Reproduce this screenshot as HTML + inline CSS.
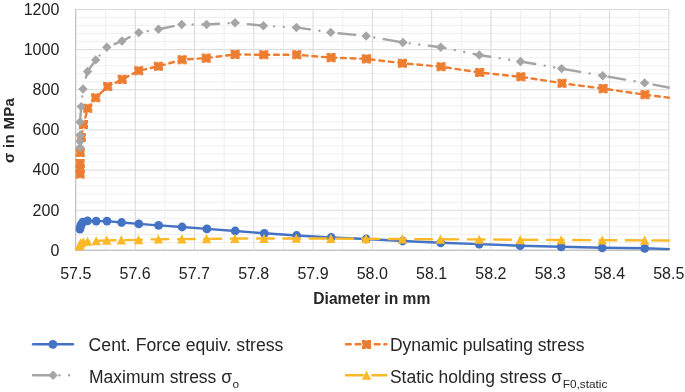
<!DOCTYPE html>
<html><head><meta charset="utf-8"><style>
html,body{margin:0;padding:0;background:#fff;}
body{width:685px;height:392px;overflow:hidden;position:relative;}
svg{position:absolute;left:0;top:0;will-change:transform;}
text{font-family:"Liberation Sans",sans-serif;}
</style></head><body>
<svg width="685" height="392" viewBox="0 0 685 392">
<defs><clipPath id="pc"><rect x="75" y="0" width="594.8" height="252"/></clipPath></defs>
<rect width="685" height="392" fill="#fff"/>
<line x1="75" y1="9.45" x2="669" y2="9.45" stroke="#D9D9D9" stroke-width="1"/>
<line x1="75" y1="17.48" x2="669" y2="17.48" stroke="#EFEFEF" stroke-width="1"/>
<line x1="75" y1="25.51" x2="669" y2="25.51" stroke="#EFEFEF" stroke-width="1"/>
<line x1="75" y1="33.55" x2="669" y2="33.55" stroke="#EFEFEF" stroke-width="1"/>
<line x1="75" y1="41.58" x2="669" y2="41.58" stroke="#EFEFEF" stroke-width="1"/>
<line x1="75" y1="49.61" x2="669" y2="49.61" stroke="#D9D9D9" stroke-width="1"/>
<line x1="75" y1="57.64" x2="669" y2="57.64" stroke="#EFEFEF" stroke-width="1"/>
<line x1="75" y1="65.67" x2="669" y2="65.67" stroke="#EFEFEF" stroke-width="1"/>
<line x1="75" y1="73.70" x2="669" y2="73.70" stroke="#EFEFEF" stroke-width="1"/>
<line x1="75" y1="81.74" x2="669" y2="81.74" stroke="#EFEFEF" stroke-width="1"/>
<line x1="75" y1="89.77" x2="669" y2="89.77" stroke="#D9D9D9" stroke-width="1"/>
<line x1="75" y1="97.80" x2="669" y2="97.80" stroke="#EFEFEF" stroke-width="1"/>
<line x1="75" y1="105.83" x2="669" y2="105.83" stroke="#EFEFEF" stroke-width="1"/>
<line x1="75" y1="113.86" x2="669" y2="113.86" stroke="#EFEFEF" stroke-width="1"/>
<line x1="75" y1="121.89" x2="669" y2="121.89" stroke="#EFEFEF" stroke-width="1"/>
<line x1="75" y1="129.93" x2="669" y2="129.93" stroke="#D9D9D9" stroke-width="1"/>
<line x1="75" y1="137.96" x2="669" y2="137.96" stroke="#EFEFEF" stroke-width="1"/>
<line x1="75" y1="145.99" x2="669" y2="145.99" stroke="#EFEFEF" stroke-width="1"/>
<line x1="75" y1="154.02" x2="669" y2="154.02" stroke="#EFEFEF" stroke-width="1"/>
<line x1="75" y1="162.05" x2="669" y2="162.05" stroke="#EFEFEF" stroke-width="1"/>
<line x1="75" y1="170.08" x2="669" y2="170.08" stroke="#D9D9D9" stroke-width="1"/>
<line x1="75" y1="178.12" x2="669" y2="178.12" stroke="#EFEFEF" stroke-width="1"/>
<line x1="75" y1="186.15" x2="669" y2="186.15" stroke="#EFEFEF" stroke-width="1"/>
<line x1="75" y1="194.18" x2="669" y2="194.18" stroke="#EFEFEF" stroke-width="1"/>
<line x1="75" y1="202.21" x2="669" y2="202.21" stroke="#EFEFEF" stroke-width="1"/>
<line x1="75" y1="210.24" x2="669" y2="210.24" stroke="#D9D9D9" stroke-width="1"/>
<line x1="75" y1="218.27" x2="669" y2="218.27" stroke="#EFEFEF" stroke-width="1"/>
<line x1="75" y1="226.31" x2="669" y2="226.31" stroke="#EFEFEF" stroke-width="1"/>
<line x1="75" y1="234.34" x2="669" y2="234.34" stroke="#EFEFEF" stroke-width="1"/>
<line x1="75" y1="242.37" x2="669" y2="242.37" stroke="#EFEFEF" stroke-width="1"/>
<line x1="75" y1="250.40" x2="669" y2="250.40" stroke="#D9D9D9" stroke-width="1"/>
<line x1="76.00" y1="9" x2="76.00" y2="250.5" stroke="#D9D9D9" stroke-width="1"/>
<line x1="105.64" y1="9" x2="105.64" y2="250.5" stroke="#EFEFEF" stroke-width="1"/>
<line x1="135.28" y1="9" x2="135.28" y2="250.5" stroke="#D9D9D9" stroke-width="1"/>
<line x1="164.92" y1="9" x2="164.92" y2="250.5" stroke="#EFEFEF" stroke-width="1"/>
<line x1="194.56" y1="9" x2="194.56" y2="250.5" stroke="#D9D9D9" stroke-width="1"/>
<line x1="224.20" y1="9" x2="224.20" y2="250.5" stroke="#EFEFEF" stroke-width="1"/>
<line x1="253.84" y1="9" x2="253.84" y2="250.5" stroke="#D9D9D9" stroke-width="1"/>
<line x1="283.48" y1="9" x2="283.48" y2="250.5" stroke="#EFEFEF" stroke-width="1"/>
<line x1="313.12" y1="9" x2="313.12" y2="250.5" stroke="#D9D9D9" stroke-width="1"/>
<line x1="342.76" y1="9" x2="342.76" y2="250.5" stroke="#EFEFEF" stroke-width="1"/>
<line x1="372.40" y1="9" x2="372.40" y2="250.5" stroke="#D9D9D9" stroke-width="1"/>
<line x1="402.04" y1="9" x2="402.04" y2="250.5" stroke="#EFEFEF" stroke-width="1"/>
<line x1="431.68" y1="9" x2="431.68" y2="250.5" stroke="#D9D9D9" stroke-width="1"/>
<line x1="461.32" y1="9" x2="461.32" y2="250.5" stroke="#EFEFEF" stroke-width="1"/>
<line x1="490.96" y1="9" x2="490.96" y2="250.5" stroke="#D9D9D9" stroke-width="1"/>
<line x1="520.60" y1="9" x2="520.60" y2="250.5" stroke="#EFEFEF" stroke-width="1"/>
<line x1="550.24" y1="9" x2="550.24" y2="250.5" stroke="#D9D9D9" stroke-width="1"/>
<line x1="579.88" y1="9" x2="579.88" y2="250.5" stroke="#EFEFEF" stroke-width="1"/>
<line x1="609.52" y1="9" x2="609.52" y2="250.5" stroke="#D9D9D9" stroke-width="1"/>
<line x1="639.16" y1="9" x2="639.16" y2="250.5" stroke="#EFEFEF" stroke-width="1"/>
<line x1="668.80" y1="9" x2="668.80" y2="250.5" stroke="#D9D9D9" stroke-width="1"/>
<line x1="75.5" y1="9" x2="75.5" y2="251" stroke="#C4C4C4" stroke-width="1"/>
<line x1="75" y1="249.5" x2="669" y2="249.5" stroke="#E4E4E4" stroke-width="1"/>
<line x1="75" y1="250.5" x2="669" y2="250.5" stroke="#C4C4C4" stroke-width="1"/>
<polyline points="80.00,229.10 80.50,226.60 81.10,224.60 82.70,222.10 87.50,220.90 96.20,221.10 107.00,221.10 121.60,222.50 138.80,223.90 158.60,225.40 182.10,227.00 206.90,228.90 235.20,231.00 264.30,233.30 296.60,235.50 331.20,237.50 366.20,239.00 402.70,241.00 440.70,242.80 479.20,244.10 520.20,245.70 561.20,246.80 602.20,247.80 644.70,248.30 670.00,249.10" fill="none" stroke="#4472C4" stroke-width="2.4" stroke-linejoin="round"  clip-path="url(#pc)"/>
<circle cx="80.00" cy="229.10" r="4.4" fill="#4472C4"/>
<circle cx="80.50" cy="226.60" r="4.4" fill="#4472C4"/>
<circle cx="81.10" cy="224.60" r="4.4" fill="#4472C4"/>
<circle cx="82.70" cy="222.10" r="4.4" fill="#4472C4"/>
<circle cx="87.50" cy="220.90" r="4.4" fill="#4472C4"/>
<circle cx="96.20" cy="221.10" r="4.4" fill="#4472C4"/>
<circle cx="107.00" cy="221.10" r="4.4" fill="#4472C4"/>
<circle cx="121.60" cy="222.50" r="4.4" fill="#4472C4"/>
<circle cx="138.80" cy="223.90" r="4.4" fill="#4472C4"/>
<circle cx="158.60" cy="225.40" r="4.4" fill="#4472C4"/>
<circle cx="182.10" cy="227.00" r="4.4" fill="#4472C4"/>
<circle cx="206.90" cy="228.90" r="4.4" fill="#4472C4"/>
<circle cx="235.20" cy="231.00" r="4.4" fill="#4472C4"/>
<circle cx="264.30" cy="233.30" r="4.4" fill="#4472C4"/>
<circle cx="296.60" cy="235.50" r="4.4" fill="#4472C4"/>
<circle cx="331.20" cy="237.50" r="4.4" fill="#4472C4"/>
<circle cx="366.20" cy="239.00" r="4.4" fill="#4472C4"/>
<circle cx="402.70" cy="241.00" r="4.4" fill="#4472C4"/>
<circle cx="440.70" cy="242.80" r="4.4" fill="#4472C4"/>
<circle cx="479.20" cy="244.10" r="4.4" fill="#4472C4"/>
<circle cx="520.20" cy="245.70" r="4.4" fill="#4472C4"/>
<circle cx="561.20" cy="246.80" r="4.4" fill="#4472C4"/>
<circle cx="602.20" cy="247.80" r="4.4" fill="#4472C4"/>
<circle cx="644.70" cy="248.30" r="4.4" fill="#4472C4"/>
<polyline points="80.10,174.00 80.10,169.00 80.10,163.50 80.20,152.50 81.30,137.50 83.50,124.50 87.80,108.20 95.70,97.80 107.70,86.50 122.20,79.40 138.70,70.70 158.40,66.30 182.10,59.70 206.20,58.10 235.10,54.40 263.80,54.80 296.80,54.80 331.10,57.60 366.40,58.90 402.40,63.20 441.10,66.70 479.70,72.50 520.90,76.80 562.00,83.20 603.10,88.60 645.00,94.70 670.00,97.80" fill="none" stroke="#ED7D31" stroke-width="2.4" stroke-linejoin="round" stroke-dasharray="4.79 4.80" stroke-dashoffset="-9.01" stroke-linecap="round" clip-path="url(#pc)"/>
<rect x="76.25" y="170.15" width="7.70" height="7.70" fill="#ED7D31"/><rect x="76.10" y="170.00" width="8.0" height="8.0" fill="none" stroke="#ED7D31" stroke-width="1.1" stroke-dasharray="6.3 1.7" stroke-dashoffset="3.2"/>
<rect x="76.25" y="165.15" width="7.70" height="7.70" fill="#ED7D31"/><rect x="76.10" y="165.00" width="8.0" height="8.0" fill="none" stroke="#ED7D31" stroke-width="1.1" stroke-dasharray="6.3 1.7" stroke-dashoffset="3.2"/>
<rect x="76.25" y="159.65" width="7.70" height="7.70" fill="#ED7D31"/><rect x="76.10" y="159.50" width="8.0" height="8.0" fill="none" stroke="#ED7D31" stroke-width="1.1" stroke-dasharray="6.3 1.7" stroke-dashoffset="3.2"/>
<rect x="76.35" y="148.65" width="7.70" height="7.70" fill="#ED7D31"/><rect x="76.20" y="148.50" width="8.0" height="8.0" fill="none" stroke="#ED7D31" stroke-width="1.1" stroke-dasharray="6.3 1.7" stroke-dashoffset="3.2"/>
<rect x="77.45" y="133.65" width="7.70" height="7.70" fill="#ED7D31"/><rect x="77.30" y="133.50" width="8.0" height="8.0" fill="none" stroke="#ED7D31" stroke-width="1.1" stroke-dasharray="6.3 1.7" stroke-dashoffset="3.2"/>
<rect x="79.65" y="120.65" width="7.70" height="7.70" fill="#ED7D31"/><rect x="79.50" y="120.50" width="8.0" height="8.0" fill="none" stroke="#ED7D31" stroke-width="1.1" stroke-dasharray="6.3 1.7" stroke-dashoffset="3.2"/>
<rect x="83.95" y="104.35" width="7.70" height="7.70" fill="#ED7D31"/><rect x="83.80" y="104.20" width="8.0" height="8.0" fill="none" stroke="#ED7D31" stroke-width="1.1" stroke-dasharray="6.3 1.7" stroke-dashoffset="3.2"/>
<rect x="91.85" y="93.95" width="7.70" height="7.70" fill="#ED7D31"/><rect x="91.70" y="93.80" width="8.0" height="8.0" fill="none" stroke="#ED7D31" stroke-width="1.1" stroke-dasharray="6.3 1.7" stroke-dashoffset="3.2"/>
<rect x="103.85" y="82.65" width="7.70" height="7.70" fill="#ED7D31"/><rect x="103.70" y="82.50" width="8.0" height="8.0" fill="none" stroke="#ED7D31" stroke-width="1.1" stroke-dasharray="6.3 1.7" stroke-dashoffset="3.2"/>
<rect x="118.35" y="75.55" width="7.70" height="7.70" fill="#ED7D31"/><rect x="118.20" y="75.40" width="8.0" height="8.0" fill="none" stroke="#ED7D31" stroke-width="1.1" stroke-dasharray="6.3 1.7" stroke-dashoffset="3.2"/>
<rect x="134.85" y="66.85" width="7.70" height="7.70" fill="#ED7D31"/><rect x="134.70" y="66.70" width="8.0" height="8.0" fill="none" stroke="#ED7D31" stroke-width="1.1" stroke-dasharray="6.3 1.7" stroke-dashoffset="3.2"/>
<rect x="154.55" y="62.45" width="7.70" height="7.70" fill="#ED7D31"/><rect x="154.40" y="62.30" width="8.0" height="8.0" fill="none" stroke="#ED7D31" stroke-width="1.1" stroke-dasharray="6.3 1.7" stroke-dashoffset="3.2"/>
<rect x="178.25" y="55.85" width="7.70" height="7.70" fill="#ED7D31"/><rect x="178.10" y="55.70" width="8.0" height="8.0" fill="none" stroke="#ED7D31" stroke-width="1.1" stroke-dasharray="6.3 1.7" stroke-dashoffset="3.2"/>
<rect x="202.35" y="54.25" width="7.70" height="7.70" fill="#ED7D31"/><rect x="202.20" y="54.10" width="8.0" height="8.0" fill="none" stroke="#ED7D31" stroke-width="1.1" stroke-dasharray="6.3 1.7" stroke-dashoffset="3.2"/>
<rect x="231.25" y="50.55" width="7.70" height="7.70" fill="#ED7D31"/><rect x="231.10" y="50.40" width="8.0" height="8.0" fill="none" stroke="#ED7D31" stroke-width="1.1" stroke-dasharray="6.3 1.7" stroke-dashoffset="3.2"/>
<rect x="259.95" y="50.95" width="7.70" height="7.70" fill="#ED7D31"/><rect x="259.80" y="50.80" width="8.0" height="8.0" fill="none" stroke="#ED7D31" stroke-width="1.1" stroke-dasharray="6.3 1.7" stroke-dashoffset="3.2"/>
<rect x="292.95" y="50.95" width="7.70" height="7.70" fill="#ED7D31"/><rect x="292.80" y="50.80" width="8.0" height="8.0" fill="none" stroke="#ED7D31" stroke-width="1.1" stroke-dasharray="6.3 1.7" stroke-dashoffset="3.2"/>
<rect x="327.25" y="53.75" width="7.70" height="7.70" fill="#ED7D31"/><rect x="327.10" y="53.60" width="8.0" height="8.0" fill="none" stroke="#ED7D31" stroke-width="1.1" stroke-dasharray="6.3 1.7" stroke-dashoffset="3.2"/>
<rect x="362.55" y="55.05" width="7.70" height="7.70" fill="#ED7D31"/><rect x="362.40" y="54.90" width="8.0" height="8.0" fill="none" stroke="#ED7D31" stroke-width="1.1" stroke-dasharray="6.3 1.7" stroke-dashoffset="3.2"/>
<rect x="398.55" y="59.35" width="7.70" height="7.70" fill="#ED7D31"/><rect x="398.40" y="59.20" width="8.0" height="8.0" fill="none" stroke="#ED7D31" stroke-width="1.1" stroke-dasharray="6.3 1.7" stroke-dashoffset="3.2"/>
<rect x="437.25" y="62.85" width="7.70" height="7.70" fill="#ED7D31"/><rect x="437.10" y="62.70" width="8.0" height="8.0" fill="none" stroke="#ED7D31" stroke-width="1.1" stroke-dasharray="6.3 1.7" stroke-dashoffset="3.2"/>
<rect x="475.85" y="68.65" width="7.70" height="7.70" fill="#ED7D31"/><rect x="475.70" y="68.50" width="8.0" height="8.0" fill="none" stroke="#ED7D31" stroke-width="1.1" stroke-dasharray="6.3 1.7" stroke-dashoffset="3.2"/>
<rect x="517.05" y="72.95" width="7.70" height="7.70" fill="#ED7D31"/><rect x="516.90" y="72.80" width="8.0" height="8.0" fill="none" stroke="#ED7D31" stroke-width="1.1" stroke-dasharray="6.3 1.7" stroke-dashoffset="3.2"/>
<rect x="558.15" y="79.35" width="7.70" height="7.70" fill="#ED7D31"/><rect x="558.00" y="79.20" width="8.0" height="8.0" fill="none" stroke="#ED7D31" stroke-width="1.1" stroke-dasharray="6.3 1.7" stroke-dashoffset="3.2"/>
<rect x="599.25" y="84.75" width="7.70" height="7.70" fill="#ED7D31"/><rect x="599.10" y="84.60" width="8.0" height="8.0" fill="none" stroke="#ED7D31" stroke-width="1.1" stroke-dasharray="6.3 1.7" stroke-dashoffset="3.2"/>
<rect x="641.15" y="90.85" width="7.70" height="7.70" fill="#ED7D31"/><rect x="641.00" y="90.70" width="8.0" height="8.0" fill="none" stroke="#ED7D31" stroke-width="1.1" stroke-dasharray="6.3 1.7" stroke-dashoffset="3.2"/>
<polyline points="80.00,147.50 80.00,141.50 80.20,135.30 80.00,122.00 81.20,106.60 83.00,89.00 87.50,71.50 95.70,59.90 106.80,47.30 122.00,41.00 138.80,32.60 158.50,29.20 181.70,24.50 206.60,24.50 235.00,22.80 263.40,25.80 296.40,27.50 330.70,32.40 366.10,36.00 402.90,42.50 440.70,47.20 479.30,55.00 520.50,61.50 561.60,68.60 602.70,75.80 644.60,82.90 670.00,87.80" fill="none" stroke="#A5A5A5" stroke-width="2.4" stroke-linejoin="round" stroke-dasharray="16.8 9.6 0.01 9.6 0.01 9.59" stroke-dashoffset="-24.76" stroke-linecap="round" clip-path="url(#pc)"/>
<path d="M80.00 142.80L84.70 147.50L80.00 152.20L75.30 147.50Z" fill="#A5A5A5"/>
<path d="M80.00 136.80L84.70 141.50L80.00 146.20L75.30 141.50Z" fill="#A5A5A5"/>
<path d="M80.20 130.60L84.90 135.30L80.20 140.00L75.50 135.30Z" fill="#A5A5A5"/>
<path d="M80.00 117.30L84.70 122.00L80.00 126.70L75.30 122.00Z" fill="#A5A5A5"/>
<path d="M81.20 101.90L85.90 106.60L81.20 111.30L76.50 106.60Z" fill="#A5A5A5"/>
<path d="M83.00 84.30L87.70 89.00L83.00 93.70L78.30 89.00Z" fill="#A5A5A5"/>
<path d="M87.50 66.80L92.20 71.50L87.50 76.20L82.80 71.50Z" fill="#A5A5A5"/>
<path d="M95.70 55.20L100.40 59.90L95.70 64.60L91.00 59.90Z" fill="#A5A5A5"/>
<path d="M106.80 42.60L111.50 47.30L106.80 52.00L102.10 47.30Z" fill="#A5A5A5"/>
<path d="M122.00 36.30L126.70 41.00L122.00 45.70L117.30 41.00Z" fill="#A5A5A5"/>
<path d="M138.80 27.90L143.50 32.60L138.80 37.30L134.10 32.60Z" fill="#A5A5A5"/>
<path d="M158.50 24.50L163.20 29.20L158.50 33.90L153.80 29.20Z" fill="#A5A5A5"/>
<path d="M181.70 19.80L186.40 24.50L181.70 29.20L177.00 24.50Z" fill="#A5A5A5"/>
<path d="M206.60 19.80L211.30 24.50L206.60 29.20L201.90 24.50Z" fill="#A5A5A5"/>
<path d="M235.00 18.10L239.70 22.80L235.00 27.50L230.30 22.80Z" fill="#A5A5A5"/>
<path d="M263.40 21.10L268.10 25.80L263.40 30.50L258.70 25.80Z" fill="#A5A5A5"/>
<path d="M296.40 22.80L301.10 27.50L296.40 32.20L291.70 27.50Z" fill="#A5A5A5"/>
<path d="M330.70 27.70L335.40 32.40L330.70 37.10L326.00 32.40Z" fill="#A5A5A5"/>
<path d="M366.10 31.30L370.80 36.00L366.10 40.70L361.40 36.00Z" fill="#A5A5A5"/>
<path d="M402.90 37.80L407.60 42.50L402.90 47.20L398.20 42.50Z" fill="#A5A5A5"/>
<path d="M440.70 42.50L445.40 47.20L440.70 51.90L436.00 47.20Z" fill="#A5A5A5"/>
<path d="M479.30 50.30L484.00 55.00L479.30 59.70L474.60 55.00Z" fill="#A5A5A5"/>
<path d="M520.50 56.80L525.20 61.50L520.50 66.20L515.80 61.50Z" fill="#A5A5A5"/>
<path d="M561.60 63.90L566.30 68.60L561.60 73.30L556.90 68.60Z" fill="#A5A5A5"/>
<path d="M602.70 71.10L607.40 75.80L602.70 80.50L598.00 75.80Z" fill="#A5A5A5"/>
<path d="M644.60 78.20L649.30 82.90L644.60 87.60L639.90 82.90Z" fill="#A5A5A5"/>
<polyline points="79.50,245.95 80.00,244.45 80.80,242.95 83.30,241.95 87.50,241.45 96.20,240.95 106.80,240.35 121.30,240.15 138.50,239.85 158.30,239.20 181.80,239.10 206.60,238.90 234.90,238.55 264.00,238.55 296.30,238.45 330.90,238.55 365.90,238.75 402.40,239.05 440.40,239.25 479.20,239.45 520.20,239.75 561.20,239.95 602.20,240.15 644.70,240.35 670.00,240.55" fill="none" stroke="#FBB927" stroke-width="2.4" stroke-linejoin="round" stroke-dasharray="16.77 9.59" stroke-dashoffset="-21.56" stroke-linecap="round" clip-path="url(#pc)"/>
<path d="M79.50 241.15L84.20 250.35L74.80 250.35Z" fill="#FBB927"/>
<path d="M80.00 239.65L84.70 248.85L75.30 248.85Z" fill="#FBB927"/>
<path d="M80.80 238.15L85.50 247.35L76.10 247.35Z" fill="#FBB927"/>
<path d="M83.30 237.15L88.00 246.35L78.60 246.35Z" fill="#FBB927"/>
<path d="M87.50 236.65L92.20 245.85L82.80 245.85Z" fill="#FBB927"/>
<path d="M96.20 236.15L100.90 245.35L91.50 245.35Z" fill="#FBB927"/>
<path d="M106.80 235.55L111.50 244.75L102.10 244.75Z" fill="#FBB927"/>
<path d="M121.30 235.35L126.00 244.55L116.60 244.55Z" fill="#FBB927"/>
<path d="M138.50 235.05L143.20 244.25L133.80 244.25Z" fill="#FBB927"/>
<path d="M158.30 234.40L163.00 243.60L153.60 243.60Z" fill="#FBB927"/>
<path d="M181.80 234.30L186.50 243.50L177.10 243.50Z" fill="#FBB927"/>
<path d="M206.60 234.10L211.30 243.30L201.90 243.30Z" fill="#FBB927"/>
<path d="M234.90 233.75L239.60 242.95L230.20 242.95Z" fill="#FBB927"/>
<path d="M264.00 233.75L268.70 242.95L259.30 242.95Z" fill="#FBB927"/>
<path d="M296.30 233.65L301.00 242.85L291.60 242.85Z" fill="#FBB927"/>
<path d="M330.90 233.75L335.60 242.95L326.20 242.95Z" fill="#FBB927"/>
<path d="M365.90 233.95L370.60 243.15L361.20 243.15Z" fill="#FBB927"/>
<path d="M402.40 234.25L407.10 243.45L397.70 243.45Z" fill="#FBB927"/>
<path d="M440.40 234.45L445.10 243.65L435.70 243.65Z" fill="#FBB927"/>
<path d="M479.20 234.65L483.90 243.85L474.50 243.85Z" fill="#FBB927"/>
<path d="M520.20 234.95L524.90 244.15L515.50 244.15Z" fill="#FBB927"/>
<path d="M561.20 235.15L565.90 244.35L556.50 244.35Z" fill="#FBB927"/>
<path d="M602.20 235.35L606.90 244.55L597.50 244.55Z" fill="#FBB927"/>
<path d="M644.70 235.55L649.40 244.75L640.00 244.75Z" fill="#FBB927"/>
<line x1="33.1" y1="344.3" x2="73.0" y2="344.3" stroke="#4472C4" stroke-width="2.4" stroke-linecap="round"/>
<circle cx="52.90" cy="344.30" r="4.4" fill="#4472C4"/>
<line x1="33.1" y1="375.3" x2="74.2" y2="375.3" stroke="#A5A5A5" stroke-width="2.4" stroke-dasharray="16.8 9.6 0.01 9.6 0.01 9.59" stroke-linecap="round"/>
<path d="M53.10 370.60L57.80 375.30L53.10 380.00L48.40 375.30Z" fill="#A5A5A5"/>
<line x1="346.0" y1="344.3" x2="386.4" y2="344.3" stroke="#ED7D31" stroke-width="2.4" stroke-dasharray="4.79 4.80" stroke-linecap="round"/>
<rect x="362.65" y="340.65" width="7.70" height="7.70" fill="#ED7D31"/><rect x="362.50" y="340.50" width="8.0" height="8.0" fill="none" stroke="#ED7D31" stroke-width="1.1" stroke-dasharray="6.3 1.7" stroke-dashoffset="3.2"/>
<line x1="346.0" y1="375.3" x2="386.4" y2="375.3" stroke="#FBB927" stroke-width="2.4" stroke-dasharray="16.77 9.59" stroke-linecap="round"/>
<path d="M366.50 370.50L371.20 379.70L361.80 379.70Z" fill="#FBB927"/>
<text x="59.3" y="255.7" font-size="16" text-anchor="end" font-weight="normal" fill="#222222" >0</text>
<text x="59.3" y="215.52" font-size="16" text-anchor="end" font-weight="normal" fill="#222222" >200</text>
<text x="59.3" y="175.35" font-size="16" text-anchor="end" font-weight="normal" fill="#222222" >400</text>
<text x="59.3" y="135.17" font-size="16" text-anchor="end" font-weight="normal" fill="#222222" >600</text>
<text x="59.3" y="95.0" font-size="16" text-anchor="end" font-weight="normal" fill="#222222" >800</text>
<text x="59.3" y="54.82" font-size="16" text-anchor="end" font-weight="normal" fill="#222222" >1000</text>
<text x="59.3" y="14.64" font-size="16" text-anchor="end" font-weight="normal" fill="#222222" >1200</text>
<text x="75.8" y="278.6" font-size="16" text-anchor="middle" font-weight="normal" fill="#222222" >57.5</text>
<text x="135.1" y="278.6" font-size="16" text-anchor="middle" font-weight="normal" fill="#222222" >57.6</text>
<text x="194.4" y="278.6" font-size="16" text-anchor="middle" font-weight="normal" fill="#222222" >57.7</text>
<text x="253.7" y="278.6" font-size="16" text-anchor="middle" font-weight="normal" fill="#222222" >57.8</text>
<text x="313.0" y="278.6" font-size="16" text-anchor="middle" font-weight="normal" fill="#222222" >57.9</text>
<text x="372.3" y="278.6" font-size="16" text-anchor="middle" font-weight="normal" fill="#222222" >58.0</text>
<text x="431.6" y="278.6" font-size="16" text-anchor="middle" font-weight="normal" fill="#222222" >58.1</text>
<text x="490.9" y="278.6" font-size="16" text-anchor="middle" font-weight="normal" fill="#222222" >58.2</text>
<text x="550.2" y="278.6" font-size="16" text-anchor="middle" font-weight="normal" fill="#222222" >58.3</text>
<text x="609.5" y="278.6" font-size="16" text-anchor="middle" font-weight="normal" fill="#222222" >58.4</text>
<text x="668.8" y="278.6" font-size="16" text-anchor="middle" font-weight="normal" fill="#222222" >58.5</text>
<text x="371.8" y="304.0" font-size="15.6" text-anchor="middle" font-weight="bold" fill="#262626" >Diameter in mm</text>
<text transform="translate(14.4,130.4) rotate(-90)" x="0" y="0" font-size="15" letter-spacing="0.3" text-anchor="middle" font-weight="bold" fill="#262626">σ in MPa</text>
<text x="88.6" y="351.0" font-size="17.65" text-anchor="start" font-weight="normal" fill="#262626" >Cent. Force equiv. stress</text>
<text x="89.0" y="383.1" font-size="17.5" text-anchor="start" font-weight="normal" fill="#262626" >Maximum stress σ<tspan font-size="11.8" dy="4.6" dx="0.4">o</tspan></text>
<text x="389.9" y="351.0" font-size="17.5" text-anchor="start" font-weight="normal" fill="#262626" >Dynamic pulsating stress</text>
<text x="389.9" y="383.1" font-size="17.5" text-anchor="start" font-weight="normal" fill="#262626" >Static holding stress σ<tspan font-size="11.8" dy="4.6" dx="0.6">F0,static</tspan></text>
</svg>
</body></html>
